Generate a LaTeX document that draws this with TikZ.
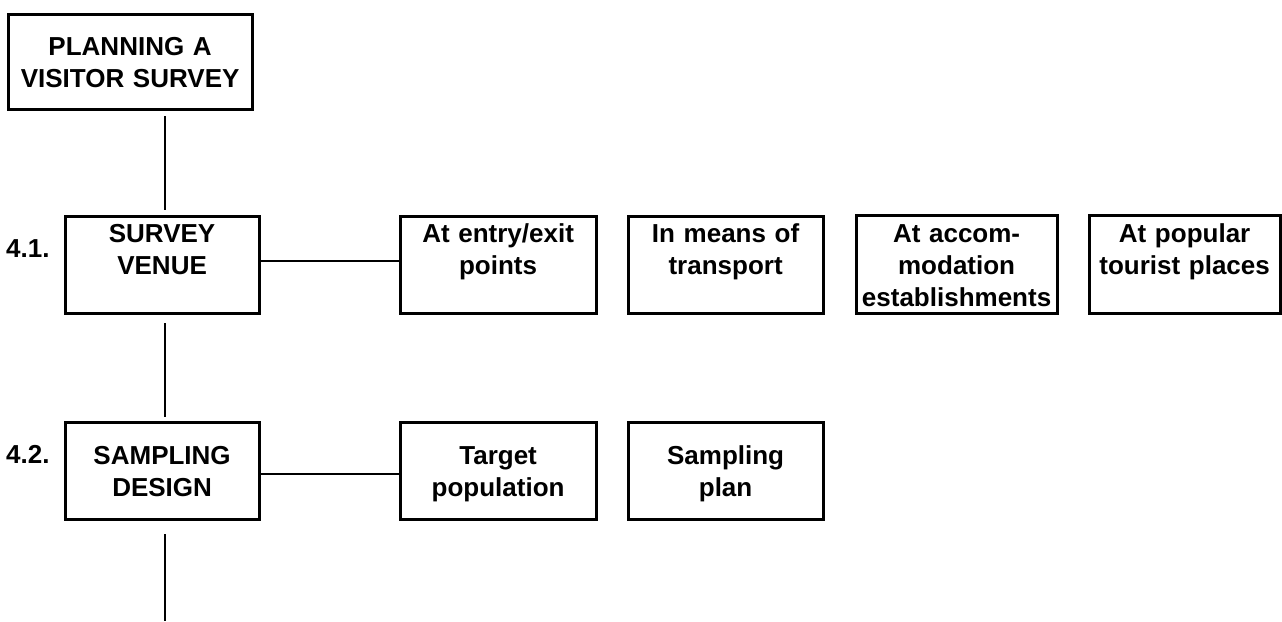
\documentclass[tikz,border=0pt]{standalone}
\usepackage{fontspec}
\setmainfont{Liberation Sans}
\begin{document}
\begin{tikzpicture}[x=1pt, y=-1pt]
\tikzset{
  box/.style={draw, line width=3.2pt, inner xsep=0pt, inner ysep=0pt,
    anchor=north west, align=center,
    font=\bfseries\fontsize{26}{32}\selectfont},
  conn/.style={line width=2pt},
  numlab/.style={anchor=base west, inner sep=0pt,
    font=\bfseries\fontsize{26}{32}\selectfont},
}
\useasboundingbox (0,0) rectangle (1282,621);

% title box
\node[box, text width=244pt, text height=41.5pt, text depth=53.5pt] (plan) at (6.5,12.5) {PLANNING A\\VISITOR SURVEY};

% row 4.1: survey venue and its options
\node[numlab] (n41) at (6,257) {4.1.};
\node[box, text width=194pt, text height=26pt, text depth=71pt] (venue) at (63.5,214.5) {SURVEY\\VENUE};
\node[box, text width=196pt, text height=26pt, text depth=71pt] (entry) at (398.5,214.5) {At entry/exit\\points};
\node[box, text width=195pt, text height=26pt, text depth=71pt] (transport) at (626.5,214.5) {In means of\\transport};
\node[box, text width=201pt, text height=27pt, text depth=71pt] (accom) at (854.5,213.5) {At accom-\\modation\\establishments};
\node[box, text width=191pt, text height=27pt, text depth=71pt] (popular) at (1087.5,213.5) {At popular\\tourist places};

% row 4.2: sampling design
\node[numlab] (n42) at (6,463) {4.2.};
\node[box, text width=194pt, text height=42.5pt, text depth=54.5pt] (sampling) at (63.5,420.5) {SAMPLING\\DESIGN};
\node[box, text width=196pt, text height=42.5pt, text depth=54.5pt] (target) at (398.5,420.5) {Target\\population};
\node[box, text width=195pt, text height=42.5pt, text depth=54.5pt] (splan) at (626.5,420.5) {Sampling\\plan};

% connectors
\coordinate (spine) at (165,0);
\coordinate (r1) at (0,261);
\coordinate (r2) at (0,474);
\coordinate (tail) at (165,621);
\draw[conn, shorten <=5.5pt, shorten >=4.5pt] (plan.south -| spine) -- (venue.north -| spine);
\draw[conn, shorten <=8.5pt, shorten >=3.5pt] (venue.south -| spine) -- (sampling.north -| spine);
\draw[conn, shorten <=13.5pt] (sampling.south -| spine) -- (tail);
\draw[conn] (venue.east |- r1) -- (entry.west |- r1);
\draw[conn] (sampling.east |- r2) -- (target.west |- r2);
\end{tikzpicture}
\end{document}
